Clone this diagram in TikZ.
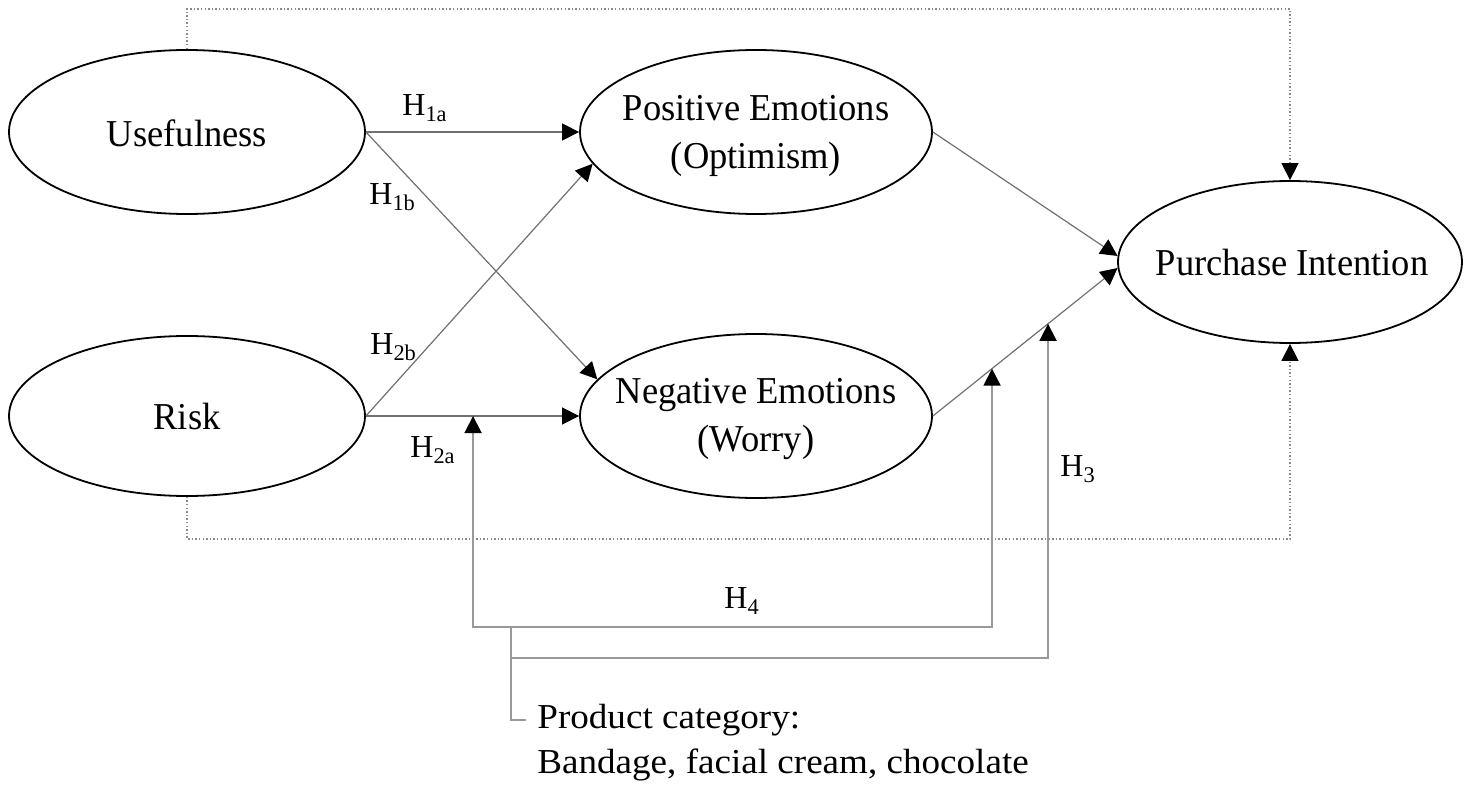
\documentclass[tikz,border=0pt]{standalone}
\usepackage{fontspec}
\setmainfont{Liberation Serif}
\newfontfamily\condserif{Liberation Serif}[FakeStretch=0.96]
\newfontfamily\wideserif{Liberation Serif}[FakeStretch=1.06]
\usetikzlibrary{arrows.meta,shapes.geometric}
\definecolor{lg}{HTML}{707070}
\definecolor{mg}{HTML}{999999}
\definecolor{dg}{HTML}{8A8A8A}
\begin{document}
\begin{tikzpicture}[x=0.5pt,y=-0.5pt,
  latent/.style={ellipse,draw=black,line width=0.9pt,inner sep=0pt},
  ltext/.style={align=center,inner sep=0pt,font=\condserif\fontsize{19}{24}\selectfont},
  btip/.style={-{Triangle[length=8.5pt,width=8.5pt,color=black]}},
  conn/.style={draw=lg,line width=0.6pt,btip},
  modl/.style={draw=mg,line width=0.9pt},
  dotl/.style={draw=dg,line width=0.7pt,dash pattern=on 0.7pt off 1.1pt,btip},
  hlab/.style={inner sep=0pt,font=\fontsize{16}{19}\selectfont},
  pctext/.style={inner sep=0pt,font=\wideserif\fontsize{17.5}{20}\selectfont}]
\useasboundingbox (0,0) rectangle (1464,786);

% latent variables
\node[latent,minimum width=178pt,minimum height=82pt] (U) at (187,132) {};
\node[latent,minimum width=178pt,minimum height=80pt] (R) at (187,416) {};
\node[latent,minimum width=176pt,minimum height=82pt] (P) at (756,132) {};
\node[latent,minimum width=176pt,minimum height=82pt] (N) at (756,416) {};
\node[latent,minimum width=172pt,minimum height=81pt] (PI) at (1290,262) {};

\node[ltext] (Ut) at (187,133) {Usefulness};
\node[ltext] (Rt) at (187,417) {Risk};
\node[ltext] (Pt) at (756,136) {Positive Emotions\\(Optimism)};
\node[ltext] (Nt) at (756,419) {Negative Emotions\\(Worry)};
\node[ltext] (PIt) at (1292,263) {Purchase Intention};

% direct paths
\draw[conn] (U.east) -- (P.west);
\draw[conn] (U.east) -- (N.167);
\draw[conn] (R.east) -- (P.191);
\draw[conn] (R.east) -- (N.west);
\draw[conn] (P.east) -- (PI.178);
\draw[conn] (N.east) -- (PI.182);

% dotted direct effects
\coordinate (d1) at (187,9);
\coordinate (d2) at (1290,9);
\coordinate (d3) at (187,539);
\coordinate (d4) at (1290,539);
\draw[dotl] (U.north) -- (d1) -- (d2) -- (PI.north);
\draw[dotl] (R.south) -- (d3) -- (d4) -- (PI.south);

% moderation
\coordinate (a2a) at (intersection of R.east--N.west and 473,0--473,800);
\coordinate (a3a) at (intersection of N.east--PI.182 and 992,0--992,800);
\coordinate (a3b) at (intersection of N.east--PI.182 and 1048,0--1048,800);
\coordinate (k1) at (473,627);
\coordinate (k2) at (992,627);
\coordinate (k3) at (511,627);
\coordinate (k4) at (511,658);
\coordinate (k5) at (1048,658);

\node[pctext,anchor=base west] (pc1) at (537,728) {Product category:};
\node[pctext,anchor=base west] (pc2) at (537,773) {Bandage, facial cream, chocolate};

\draw[modl,{Triangle[length=8.5pt,width=8.5pt,color=black]}-{Triangle[length=8.5pt,width=8.5pt,color=black]}] (a2a) -- (k1) -- (k2) -- (a3a);
\draw[modl,btip] (k4) -- (k5) -- (a3b);
\draw[modl] (k3) |- ([xshift=-5.5pt]pc1.west);

% hypothesis labels
\node[hlab,anchor=base west] (h1a) at (402,116) {H\textsubscript{1a}};
\node[hlab,anchor=base west] (h1b) at (369,205) {H\textsubscript{1b}};
\node[hlab,anchor=base west] (h2b) at (370,355) {H\textsubscript{2b}};
\node[hlab,anchor=base west] (h2a) at (410,458) {H\textsubscript{2a}};
\node[hlab,anchor=base west] (h3) at (1060,477) {H\textsubscript{3}};
\node[hlab,anchor=base west] (h4) at (724,609) {H\textsubscript{4}};
\end{tikzpicture}
\end{document}
